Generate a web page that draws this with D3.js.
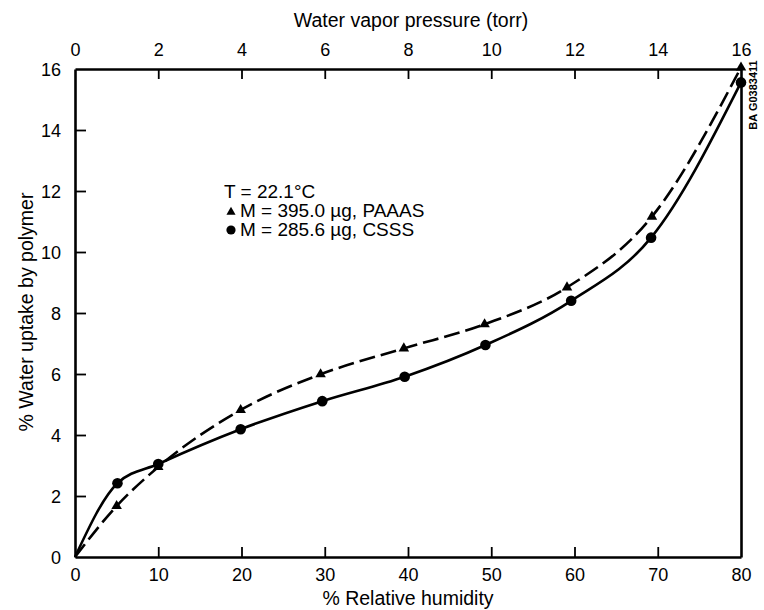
<!DOCTYPE html>
<html>
<head>
<meta charset="utf-8">
<script src="https://cdn.jsdelivr.net/npm/d3@7"></script>
<style>
  html, body { margin: 0; padding: 0; background: #fff; }
  svg text { font-family: "Liberation Sans", Arial, Helvetica, sans-serif; fill: #000; }
</style>
</head>
<body>
<svg id="chart" width="764" height="610"></svg>
<script>
// ---- data ----
const rhTicks = [0, 10, 20, 30, 40, 50, 60, 70, 80];
const vpTicks = [0, 2, 4, 6, 8, 10, 12, 14, 16];
const yTicks = [0, 2, 4, 6, 8, 10, 12, 14, 16];

const paaasRH = [0, 5, 10, 19.9, 29.5, 39.5, 49.2, 59.1, 69.3, 80];
const paaasUptake = [0, 1.67, 2.95, 4.82, 5.99, 6.84, 7.63, 8.84, 11.16, 16.05];

const csssRH = [0, 5.1, 10, 19.9, 29.7, 39.6, 49.3, 59.6, 69.2, 80];
const csssUptake = [0, 2.42, 3.05, 4.19, 5.11, 5.91, 6.95, 8.40, 10.47, 15.56];

const legendLines = ["T = 22.1°C", "M = 395.0 µg, PAAAS", "M = 285.6 µg, CSSS"];

// ---- layout ----
const svg = d3.select("#chart");
const L = 75, R = 741, T = 69, B = 557;

const x = d3.scaleLinear().domain([0, 80]).range([L, R]);
const xTop = d3.scaleLinear().domain([0, 16]).range([L, R]);
const y = d3.scaleLinear().domain([0, 16]).range([B, T]);

const axisColor = "#000";
const tickFont = 18;
const titleFont = 19.5;
const legendFont = 19;

const g = svg.append("g");

const bottomAxis = d3.axisBottom(x).tickValues(rhTicks).tickSizeInner(-10).tickSizeOuter(0).tickPadding(11);
const gb = g.append("g").attr("transform", `translate(0,${B})`).call(bottomAxis);
const topAxis = d3.axisTop(xTop).tickValues(vpTicks).tickSizeInner(-10).tickSizeOuter(0).tickPadding(13);
const gt = g.append("g").attr("transform", `translate(0,${T})`).call(topAxis);
const leftAxis = d3.axisLeft(y).tickValues(yTicks).tickSizeInner(-11).tickSizeOuter(0).tickPadding(14);
const gl = g.append("g").attr("transform", `translate(${L},0)`).call(leftAxis);
const rightAxis = d3.axisRight(y).tickValues([]).tickSizeOuter(0);
const gr = g.append("g").attr("transform", `translate(${R},0)`).call(rightAxis);

[gb, gt, gl, gr].forEach(a => {
  a.select(".domain").attr("stroke", axisColor).attr("stroke-width", 2.6);
  a.selectAll(".tick line").attr("stroke", axisColor).attr("stroke-width", 1.8);
  a.selectAll(".tick text").attr("font-size", tickFont).attr("font-family", "Liberation Sans, Arial, sans-serif").attr("fill", "#000");
});
gb.selectAll(".tick").filter(d => d === 0 || d === 80).select("line").remove();
gt.selectAll(".tick").filter(d => d === 0 || d === 16).select("line").remove();
gl.selectAll(".tick").filter(d => d === 0 || d === 16).select("line").remove();
gl.selectAll(".tick text").attr("dy", "0.36em");

// axis titles
svg.append("text").attr("x", 411).attr("y", 27).attr("text-anchor", "middle")
  .attr("font-size", titleFont).text("Water vapor pressure (torr)");
svg.append("text").attr("x", 408).attr("y", 605).attr("text-anchor", "middle")
  .attr("font-size", titleFont).text("% Relative humidity");
svg.append("text").attr("transform", "translate(33,312) rotate(-90)").attr("text-anchor", "middle")
  .attr("font-size", titleFont).text("% Water uptake by polymer");

// small rotated id
svg.append("text").attr("transform", "translate(757,95) rotate(-90)").attr("text-anchor", "middle")
  .attr("font-size", 11).attr("font-weight", "bold").text("BA G0383411");

// ---- lines ----
const line = d3.line().x(d => x(d[0])).y(d => y(d[1])).curve(d3.curveMonotoneX);
const paaas = paaasRH.map((v, i) => [v, paaasUptake[i]]);
const csss = csssRH.map((v, i) => [v, csssUptake[i]]);

svg.append("path").datum(csss).attr("d", line).attr("fill", "none")
  .attr("stroke", "#000").attr("stroke-width", 2.6);
svg.append("path").datum(paaas).attr("d", line).attr("fill", "none")
  .attr("stroke", "#000").attr("stroke-width", 2.6).attr("stroke-dasharray", "16,6");

const tri = d3.symbol().type(d3.symbolTriangle).size(48);
svg.selectAll(".tri").data(paaas.slice(1)).enter().append("path")
  .attr("d", tri).attr("transform", d => `translate(${x(d[0])},${y(d[1])})`).attr("fill", "#000");
svg.selectAll(".circ").data(csss.slice(1)).enter().append("circle")
  .attr("cx", d => x(d[0])).attr("cy", d => y(d[1])).attr("r", 5.3).attr("fill", "#000");

// ---- legend ----
svg.append("text").attr("x", 224).attr("y", 198).attr("font-size", legendFont).text(legendLines[0]);
svg.append("path").attr("d", d3.symbol().type(d3.symbolTriangle).size(36))
  .attr("transform", "translate(231,212)").attr("fill", "#000");
svg.append("text").attr("x", 240).attr("y", 217).attr("font-size", legendFont).text(legendLines[1]);
svg.append("circle").attr("cx", 231).attr("cy", 230).attr("r", 4.6).attr("fill", "#000");
svg.append("text").attr("x", 240).attr("y", 236).attr("font-size", legendFont).text(legendLines[2]);
</script>
</body>
</html>
